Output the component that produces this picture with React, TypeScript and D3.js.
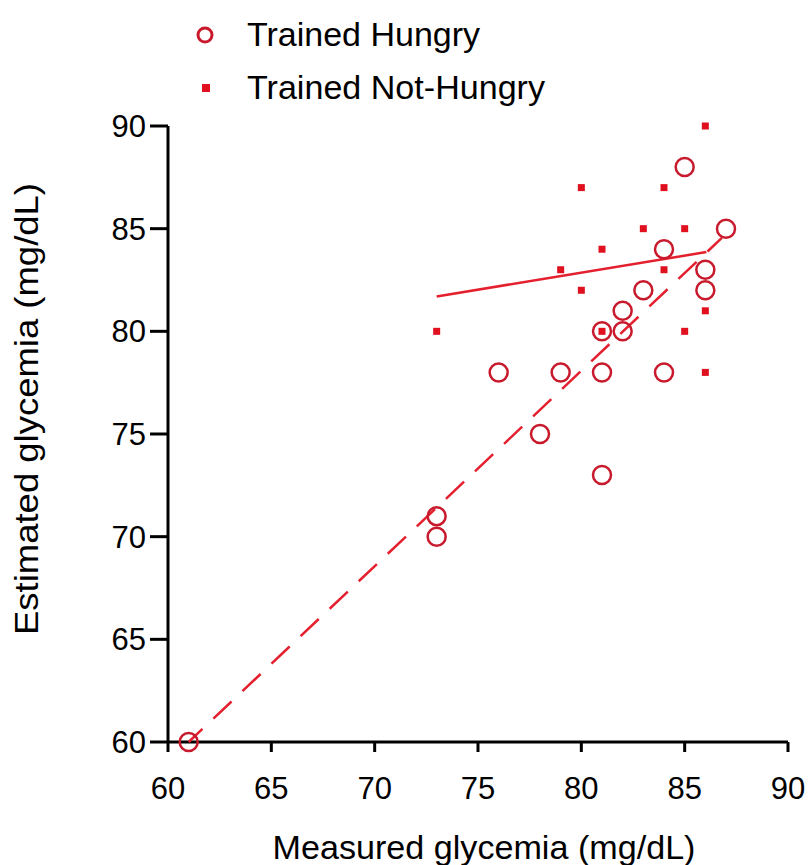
import React from "react";
import * as d3 from "d3";

const hungryX = [61, 73, 73, 76, 78, 79, 81, 81, 81, 82, 82, 83, 84, 84, 85, 86, 86, 87];
const hungryY = [60, 71, 70, 78, 75, 78, 80, 78, 73, 81, 80, 82, 84, 78, 88, 83, 82, 85];
const notHungryX = [86, 80, 84, 83, 85, 81, 79, 84, 80, 86, 73, 81, 85, 86];
const notHungryY = [90, 87, 87, 85, 85, 84, 83, 83, 82, 81, 80, 80, 80, 78];
const hungryFitX = [61, 86.8];
const hungryFitY = [60, 84.55];
const notHungryFitX = [73, 86.05];
const notHungryFitY = [81.7, 83.86];
const xTicks = [60, 65, 70, 75, 80, 85, 90];
const yTicks = [60, 65, 70, 75, 80, 85, 90];
const legendLabels = ["Trained Hungry", "Trained Not-Hungry"];
const xTitle = "Measured glycemia (mg/dL)";
const yTitle = "Estimated glycemia (mg/dL)";

const FONT = "'Liberation Sans', Arial, sans-serif";

export default function App() {
  const x = d3.scaleLinear().domain([60, 90]).range([168, 788]);
  const y = d3.scaleLinear().domain([60, 90]).range([742, 126]);
  const line = d3
    .line<[number, number]>()
    .x((d) => x(d[0]))
    .y((d) => y(d[1]));
  const hungryFit = hungryFitX.map((v, i) => [v, hungryFitY[i]] as [number, number]);
  const notFit = notHungryFitX.map((v, i) => [v, notHungryFitY[i]] as [number, number]);

  const circleColor = "#c81a2c";
  const squareColor = "#e0101e";
  const lineColor = "#e4202e";

  return (
    <svg
      width={808}
      height={865}
      style={{ position: "absolute", left: 0, top: 0, background: "#fff" }}
      fontFamily={FONT}
    >
      {/* legend */}
      <circle cx={205} cy={35} r={7} fill="none" stroke={circleColor} strokeWidth={3} />
      <rect x={202} y={84} width={8} height={8} fill={squareColor} />
      <text x={247} y={46} fontSize={33} fill="#000" textLength={233} lengthAdjust="spacingAndGlyphs">
        {legendLabels[0]}
      </text>
      <text x={247} y={99} fontSize={33} fill="#000" textLength={298} lengthAdjust="spacingAndGlyphs">
        {legendLabels[1]}
      </text>

      {/* axes */}
      <line x1={x(60)} x2={x(90)} y1={y(60)} y2={y(60)} stroke="#000" strokeWidth={3} />
      <line x1={x(60)} x2={x(60)} y1={y(60)} y2={y(90)} stroke="#000" strokeWidth={3} />
      {yTicks.map((t) => (
        <g key={"y" + t}>
          <line x1={x(60) - 18} x2={x(60)} y1={y(t)} y2={y(t)} stroke="#000" strokeWidth={3} />
          <text
            x={146}
            y={y(t) + 11}
            fontSize={31}
            textAnchor="end"
            fill="#000"
          >
            {t}
          </text>
        </g>
      ))}
      {xTicks.map((t) => (
        <g key={"x" + t}>
          <line x1={x(t)} x2={x(t)} y1={y(60)} y2={y(60) + 10} stroke="#000" strokeWidth={3} />
          <text x={x(t)} y={799} fontSize={31} textAnchor="middle" fill="#000">
            {t}
          </text>
        </g>
      ))}
      <text x={484} y={859} fontSize={33} textAnchor="middle" fill="#000" textLength={423} lengthAdjust="spacingAndGlyphs">
        {xTitle}
      </text>
      <text
        transform={`translate(38, 635) rotate(-90)`}
        fontSize={33}
        fill="#000"
        textLength={452}
        lengthAdjust="spacingAndGlyphs"
      >
        {yTitle}
      </text>

      {/* fit lines */}
      <path
        d={line(hungryFit) || ""}
        fill="none"
        stroke={lineColor}
        strokeWidth={2.5}
        strokeDasharray="25 15"
        strokeDashoffset={6}
      />
      <path d={line(notFit) || ""} fill="none" stroke={lineColor} strokeWidth={2.5} />

      {/* points */}
      {hungryX.map((v, i) => (
        <circle
          key={"h" + i}
          cx={x(v)}
          cy={y(hungryY[i])}
          r={9}
          fill="none"
          stroke={circleColor}
          strokeWidth={2.5}
        />
      ))}
      {notHungryX.map((v, i) => (
        <rect
          key={"n" + i}
          x={x(v) - 3.5}
          y={y(notHungryY[i]) - 3.5}
          width={7}
          height={7}
          fill={squareColor}
        />
      ))}
    </svg>
  );
}
